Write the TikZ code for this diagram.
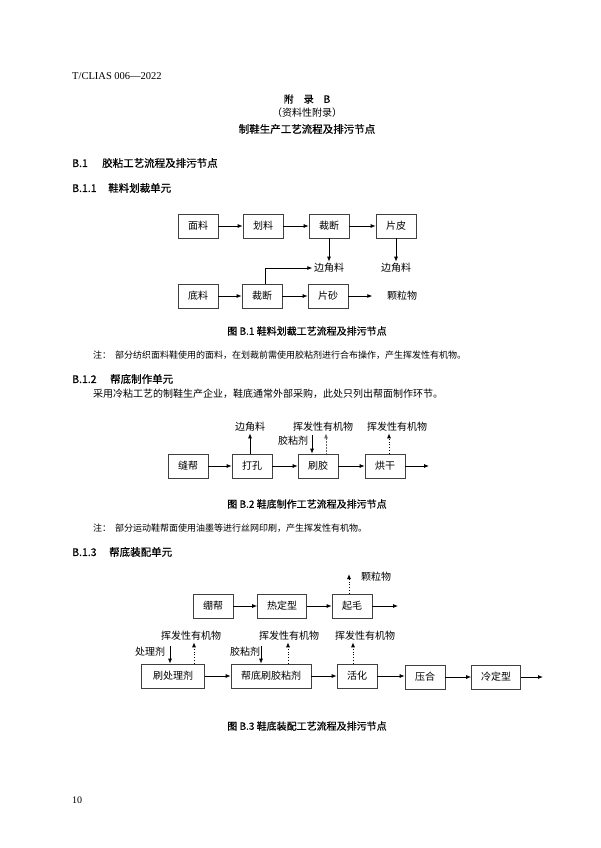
\documentclass[tikz,border=0pt]{standalone}
\usepackage{fontspec}
\setmainfont{Noto Sans CJK SC}
\newfontfamily\latinserif{Liberation Serif}
\newfontfamily\heiti[FakeBold=0.6]{Noto Sans CJK SC}
\usetikzlibrary{arrows.meta,positioning}
\tikzset{
	>={Latex[length=5pt,width=4pt]},
	box/.style = {
			draw=black!75,
			line width=0.7pt,
			rectangle,
			minimum width=40pt,
			minimum height=24pt,
			inner xsep=9.5pt,
			font=\fontsize{10}{12}\selectfont,
		},
	lbl/.style = {inner sep=1.5pt, font=\fontsize{10}{12}\selectfont},
	flow/.style = {->, line width=0.8pt},
	fume/.style = {->, line width=0.8pt, dotted},
	heading/.style = {anchor=west, inner sep=0pt, font=\heiti\fontsize{10.5}{12}\selectfont},
	caption/.style = {inner sep=0pt, font=\heiti\fontsize{10}{12}\selectfont},
	note/.style = {anchor=west, inner sep=0pt, font=\fontsize{9}{11}\selectfont},
	body/.style = {anchor=west, inner sep=0pt, font=\fontsize{10}{12}\selectfont},
}
\begin{document}
\begin{tikzpicture}[x=1pt, y=-1pt]
	\useasboundingbox (0,0) rectangle (600,848);

	\node[anchor=west, inner sep=0pt, font=\latinserif\fontsize{10.5}{12}\selectfont] at (72,76) (docid) {T/CLIAS 006—2022};
	\node[font=\heiti\fontsize{10}{12}\selectfont] at (307,99) (annex) {附\quad 录\quad B};
	\node[font=\fontsize{10}{12}\selectfont] at (307,113) (annextype) {（资料性附录）};
	\node[font=\heiti\fontsize{10.5}{12}\selectfont] at (307,129) (annextitle) {制鞋生产工艺流程及排污节点};
	\node[heading] at (72,163) (secBone) {\makebox[30pt][l]{B.1}胶粘工艺流程及排污节点};
	\node[heading] at (72,188) (secBoneone) {\makebox[36pt][l]{B.1.1}鞋料划裁单元};

	\node[box] at (198,226) (fabric) {面料};
	\node[box] at (263,226) (mark) {划料};
	\node[box] at (329,226) (cutA) {裁断};
	\node[box] at (396,226) (split) {片皮};
	\node[lbl] at (329,268) (scrapA) {边角料};
	\node[lbl] at (396,268) (scrapB) {边角料};
	\node[box] at (198,296) (sole) {底料};
	\node[box] at (262,296) (cutB) {裁断};
	\node[box] at (328,296) (sand) {片砂};
	\node[lbl] at (402,296) (dustA) {颗粒物};

	\draw[flow] (fabric) -- (mark);
	\draw[flow] (mark) -- (cutA);
	\draw[flow] (cutA) -- (split);
	\draw[flow] (cutA) -- (scrapA);
	\draw[flow] (split) -- (scrapB);
	\draw[flow] (sole) -- (cutB);
	\draw[flow] (cutB) -- (sand);
	\draw[flow] ([xshift=3pt]cutB.north) |- (scrapA.west);
	\draw[flow, shorten >=13pt] (sand) -- (dustA);

	\node[caption] at (307,331) (figBone) {图 B.1 鞋料划裁工艺流程及排污节点};
	\node[note] at (93,355) (noteBone) {\makebox[22pt][l]{注：}部分纺织面料鞋使用的面料，在划裁前需使用胶粘剂进行合布操作，产生挥发性有机物。};
	\node[heading] at (72,379) (secBonetwo) {\makebox[38pt][l]{B.1.2}帮底制作单元};
	\node[body] at (93,394) (textBonetwo) {采用冷粘工艺的制鞋生产企业，鞋底通常外部采购，此处只列出帮面制作环节。};

	\node[box] at (188,466) (sew) {缝帮};
	\node[box] at (252,466) (punch) {打孔};
	\node[box] at (318,466) (brush) {刷胶};
	\node[box] at (385,466) (dry) {烘干};
	\coordinate (outA) at (429,466);
	\node[lbl] at (250,427) (scrapC) {边角料};
	\node[lbl] at (323,427) (vocA) {挥发性有机物};
	\node[lbl] at (293,441) (glueA) {胶粘剂};
	\node[lbl] at (397,427) (vocB) {挥发性有机物};
	\coordinate (glueinA) at (312,435);

	\draw[flow] (sew) -- (punch);
	\draw[flow] (punch) -- (brush);
	\draw[flow] (brush) -- (dry);
	\draw[flow] (dry) -- (outA);
	\draw[flow] (punch.north -| scrapC) -- (scrapC.south);
	\draw[flow] (glueinA) -- (glueinA |- brush.north);
	\draw[->, line width=0.9pt, draw=black!60, dash pattern=on 1pt off 0.5pt] ([xshift=8pt]brush.north) -- ([xshift=8pt]brush.north |- vocA.south);
	\draw[fume] ([xshift=4pt]dry.north) -- ([xshift=4pt]dry.north |- vocB.south);

	\node[caption] at (307,504) (figBtwo) {图 B.2 鞋底制作工艺流程及排污节点};
	\node[note] at (93,528) (noteBtwo) {\makebox[22pt][l]{注：}部分运动鞋帮面使用油墨等进行丝网印刷，产生挥发性有机物。};
	\node[heading] at (72,552) (secBonethree) {\makebox[37pt][l]{B.1.3}帮底装配单元};

	\node[box] at (213,606) (last) {绷帮};
	\node[box, minimum width=49pt] at (282,606) (heat) {热定型};
	\node[box] at (352,606) (rough) {起毛};
	\coordinate (outB) at (398,606);
	\node[lbl] at (376,577) (dustB) {颗粒物};
	\coordinate (dusttip) at (349,574);

	\draw[flow] (last) -- (heat);
	\draw[flow] (heat) -- (rough);
	\draw[flow] (rough) -- (outB);
	\draw[fume] (rough.north -| dusttip) -- (dusttip);

	\node[box, minimum width=63pt] at (173,676) (prime) {刷处理剂};
	\node[box, minimum width=80pt] at (271,676) (glue) {帮底刷胶粘剂};
	\node[box] at (357,676) (activ) {活化};
	\node[box] at (425,677) (press) {压合};
	\node[box, minimum width=48pt] at (496,677) (cool) {冷定型};
	\coordinate (outC) at (543,677);
	\node[lbl] at (191,636) (vocC) {挥发性有机物};
	\node[lbl] at (150,652) (primer) {处理剂};
	\node[lbl] at (289,636) (vocD) {挥发性有机物};
	\node[lbl] at (245,652) (glueB) {胶粘剂};
	\node[lbl] at (365,636) (vocE) {挥发性有机物};
	\coordinate (primein) at (170,646);
	\coordinate (glueinB) at (261,646);

	\draw[flow] (prime) -- (glue);
	\draw[flow] (glue) -- (activ);
	\draw[flow] (activ) -- (activ -| press.west);
	\draw[flow] (press) -- (cool);
	\draw[flow] (cool) -- (outC);
	\draw[flow] (primein) -- (primein |- prime.north);
	\draw[flow] (glueinB) -- (glueinB |- glue.north);
	\draw[fume] ([xshift=21pt]prime.north) -- ([xshift=21pt]prime.north |- vocC.south);
	\draw[fume] ([xshift=17pt]glue.north) -- ([xshift=17pt]glue.north |- vocD.south);
	\draw[fume] ([xshift=-4pt]activ.north) -- ([xshift=-4pt]activ.north |- vocE.south);

	\node[caption] at (307,726) (figBthree) {图 B.3 鞋底装配工艺流程及排污节点};
	\node[anchor=west, inner sep=0pt, font=\latinserif\fontsize{10}{12}\selectfont] at (72,800) (pageno) {10};
\end{tikzpicture}
\end{document}
